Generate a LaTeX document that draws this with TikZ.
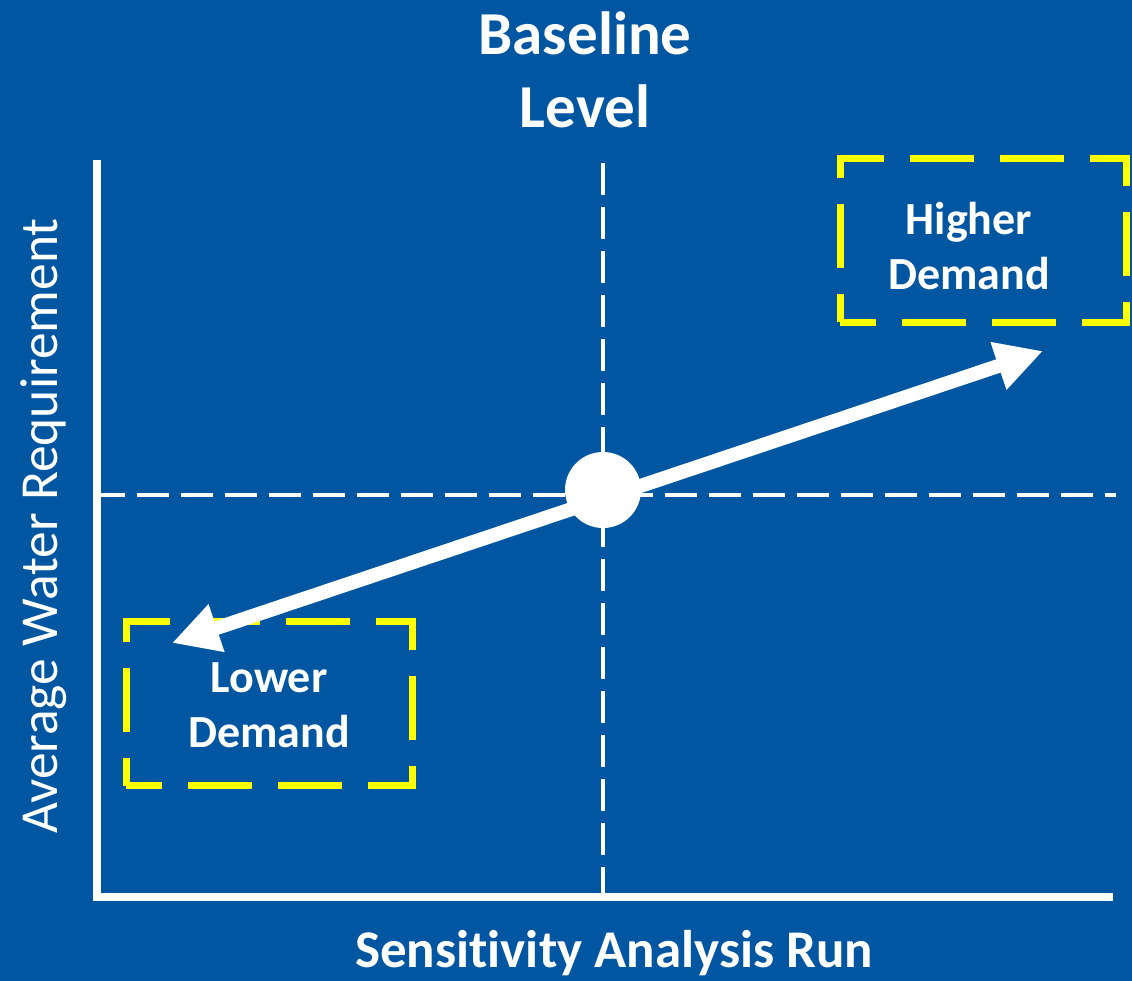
\documentclass[tikz,border=0pt]{standalone}
\usepackage{fontspec}
\setmainfont{Carlito}[Ligatures=NoCommon]
\usetikzlibrary{arrows.meta,positioning}
\definecolor{slideblue}{RGB}{1,86,161}
\definecolor{hiyellow}{RGB}{255,255,0}

\begin{document}
\begin{tikzpicture}[x=1pt,y=-1pt,
  axis/.style={draw=white,line width=8pt,line join=miter},
  guide/.style={draw=white,line width=4.5pt,dash pattern=on 32pt off 12pt},
  zonebox/.style={draw=hiyellow,line width=7pt,dash pattern=on 64pt off 26pt,dash phase=28pt,
    minimum width=286pt,minimum height=164pt,inner sep=0pt},
  lbl/.style={text=white,font=\bfseries,align=center,inner sep=0pt},
  arr/.style={{Triangle[length=47pt,width=47pt]}-{Triangle[length=47pt,width=47pt]},draw=white,fill=white,line width=14pt}]
\fill[slideblue] (0,0) rectangle (1132,981);
\useasboundingbox (0,0) rectangle (1132,981);
% Axes and baseline guides
\coordinate (ytop) at (97,160);
\coordinate (origin) at (97,897);
\coordinate (xend) at (1113,897);
\coordinate (vtop) at (603,163);
\coordinate (vbot) at (603,894);
\coordinate (hleft) at (101,495);
\coordinate (hright) at (1116,495);
\draw[guide] (vtop) -- (vbot);
\draw[guide,dash phase=8pt] (hleft) -- (hright);
\draw[axis] (ytop) -- (origin) -- (xend);
% Demand zones
\node[zonebox] (lowbox) at (269,703.5) {};
\node[zonebox] (highbox) at (983,240.5) {};
\node[lbl,font=\bfseries\fontsize{46pt}{55pt}\selectfont] (lowtxt) at (269,705) {Lower\\Demand};
\node[lbl,font=\bfseries\fontsize{46pt}{55pt}\selectfont] (hightxt) at (969,246) {Higher\\Demand};
% Sensitivity direction
\coordinate (lowend) at (172,643);
\coordinate (highend) at (1043,351);
\draw[arr] (lowend) -- (highend);
\node[circle,fill=white,minimum size=76pt,inner sep=0pt] (base) at (603,490) {};
% Titles
\node[lbl,font=\bfseries\fontsize{61pt}{73pt}\selectfont] (title) at (585,70) {Baseline\\Level};
\node[lbl,font=\bfseries\fontsize{53pt}{64pt}\selectfont,anchor=base] (xlab) at (614,967) {Sensit\kern0pt ivity Analysis Run};
\node[text=white,inner sep=0pt,rotate=90,font=\fontsize{53.5pt}{64pt}\selectfont] (ylab) at (43.5,526) {Average Water Requirement};
\end{tikzpicture}
\end{document}
